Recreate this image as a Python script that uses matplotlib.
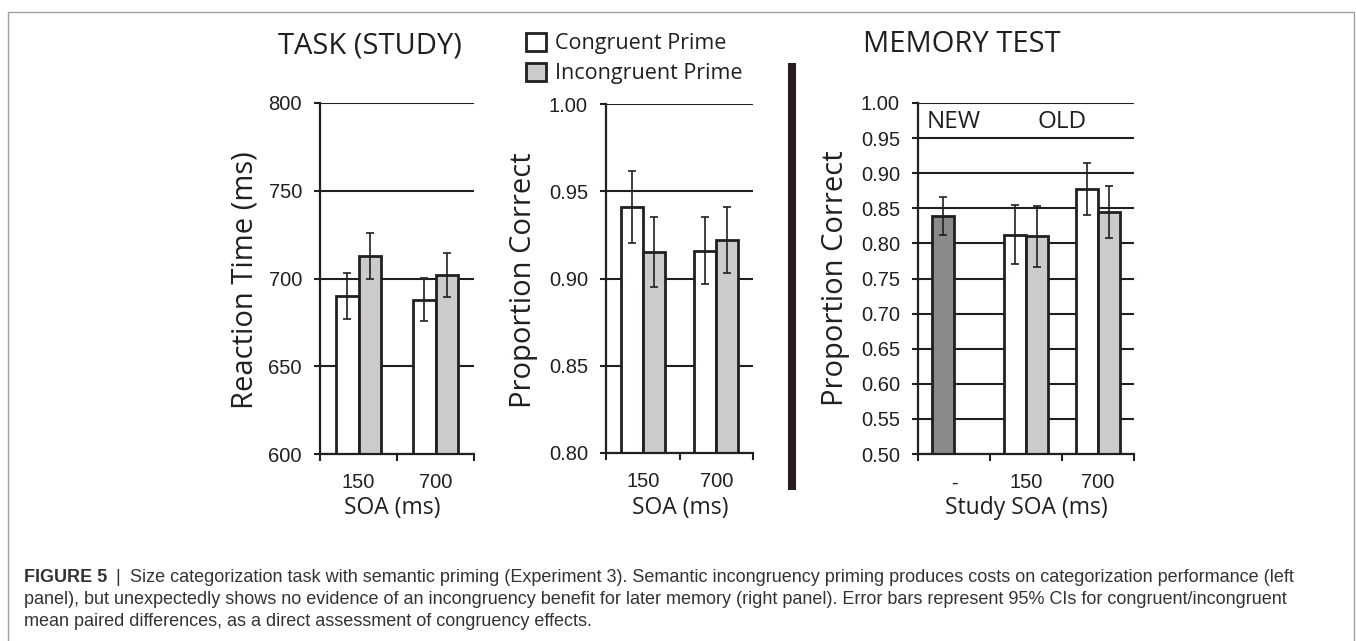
import matplotlib
matplotlib.use("Agg")
import matplotlib.pyplot as plt
from matplotlib.lines import Line2D
from matplotlib.patches import Rectangle, Patch

W, H = 1356, 641

# ---------------- data ----------------
soa_labels = ["150", "700"]
rt_congruent = [690, 688]
rt_incongruent = [713, 702]
rt_congruent_err = [13, 12.5]
rt_incongruent_err = [13, 12.5]

acc_congruent = [0.941, 0.916]
acc_incongruent = [0.915, 0.922]
acc_congruent_err = [0.0205, 0.019]
acc_incongruent_err = [0.020, 0.019]

mem_labels = ["-", "150", "700"]
mem_new = [0.839]
mem_new_err = [0.027]
mem_congruent = [0.812, 0.877]
mem_incongruent = [0.810, 0.845]
mem_congruent_err = [0.042, 0.037]
mem_incongruent_err = [0.043, 0.037]

rt_ticks = [600, 650, 700, 750, 800]
acc_ticks = [0.80, 0.85, 0.90, 0.95, 1.00]
mem_ticks = [0.50, 0.55, 0.60, 0.65, 0.70, 0.75, 0.80, 0.85, 0.90, 0.95, 1.00]

series_names = ["Congruent Prime", "Incongruent Prime"]

# ---------------- style ----------------
INK = "#231f20"
C_CONG = "white"
C_INC = "#cbcbcb"
C_NEW = "#8a8a8a"
SANS = ["Open Sans", "DejaVu Sans"]
NUM = ["Liberation Sans", "DejaVu Sans"]

fig = plt.figure(figsize=(W / 100, H / 100), dpi=100)


def axes_px(x0, y0, x1, y1):
    return fig.add_axes([x0 / W, 1 - y1 / H, (x1 - x0) / W, (y1 - y0) / H])


def style(ax, labels, ylim, yticks, fmt):
    n = len(labels)
    ax.set_xlim(0, n)
    ax.set_ylim(*ylim)
    for s in ("top", "right"):
        ax.spines[s].set_visible(False)
    for s in ("left", "bottom"):
        ax.spines[s].set_linewidth(1.6)
        ax.spines[s].set_color(INK)
    ax.set_yticks(yticks)
    ax.set_yticklabels([fmt.format(t) for t in yticks], fontfamily=NUM, fontsize=14.5)
    ax.yaxis.grid(True, color=INK, linewidth=1.5)
    ax.set_axisbelow(True)
    ax.tick_params(axis="y", length=4, width=1.5, color=INK, pad=9, labelcolor=INK)
    ax.set_xticks(range(n + 1))
    ax.set_xticklabels([])
    ax.tick_params(axis="x", which="major", length=5, width=1.5, color=INK)
    ax.set_xticks([i + 0.5 for i in range(n)], minor=True)
    ax.set_xticklabels(labels, minor=True, fontfamily=NUM, fontsize=14.5, color=INK)
    ax.tick_params(axis="x", which="minor", length=0, pad=14)


def bars(ax, x, vals, err, w, color):
    ax.bar(x, vals, w, yerr=err, color=color, edgecolor=INK, linewidth=2,
           error_kw=dict(ecolor=INK, elinewidth=1.2, capsize=3, capthick=1.2))


# ---- left panel: reaction time ----
ax1 = axes_px(320, 103, 474, 454)
style(ax1, soa_labels, (600, 800), rt_ticks, "{:d}")
w = 0.29
xc = [i + 0.5 for i in range(len(soa_labels))]
bars(ax1, [x - w / 2 for x in xc], rt_congruent, rt_congruent_err, w, C_CONG)
bars(ax1, [x + w / 2 for x in xc], rt_incongruent, rt_incongruent_err, w, C_INC)

# ---- middle panel: accuracy ----
ax2 = axes_px(606, 104, 753, 453)
style(ax2, soa_labels, (0.80, 1.00), acc_ticks, "{:.2f}")
w = 0.30
bars(ax2, [x - w / 2 for x in xc], acc_congruent, acc_congruent_err, w, C_CONG)
bars(ax2, [x + w / 2 for x in xc], acc_incongruent, acc_incongruent_err, w, C_INC)

# ---- right panel: memory ----
ax3 = axes_px(918, 103, 1134, 454)
style(ax3, mem_labels, (0.50, 1.00), mem_ticks, "{:.2f}")
w = 0.30
bars(ax3, [0.5 - w / 2], mem_new, mem_new_err, w, C_NEW)
xo = [1.5, 2.5]
bars(ax3, [x - w / 2 for x in xo], mem_congruent, mem_congruent_err, w, C_CONG)
bars(ax3, [x + w / 2 for x in xo], mem_incongruent, mem_incongruent_err, w, C_INC)
ax3.text(0.12, 0.9725, "NEW", ha="left", va="center", fontfamily=SANS, fontsize=17.5, color=INK)
ax3.text(2.0, 0.9725, "OLD", ha="center", va="center", fontfamily=SANS, fontsize=17.5, color=INK)


def ftext(x, y, s, **kw):
    return fig.text(x / W, 1 - y / H, s, **kw)


# axis labels
ftext(245, 280, "Reaction Time (ms)", rotation=90, ha="center", va="center", fontfamily=SANS, fontsize=21, color=INK)
ftext(523, 280, "Proportion Correct", rotation=90, ha="center", va="center", fontfamily=SANS, fontsize=21, color=INK)
ftext(835, 278, "Proportion Correct", rotation=90, ha="center", va="center", fontfamily=SANS, fontsize=21, color=INK)
ftext(392, 508, "SOA (ms)", ha="center", va="center", fontfamily=SANS, fontsize=16.5, color=INK)
ftext(680, 508, "SOA (ms)", ha="center", va="center", fontfamily=SANS, fontsize=16.5, color=INK)
ftext(1026, 508, "Study SOA (ms)", ha="center", va="center", fontfamily=SANS, fontsize=16.5, color=INK)

# titles
ftext(370, 46, "TASK (STUDY)", ha="center", va="center", fontfamily=SANS, fontsize=21, color=INK)
ftext(962, 45, "MEMORY TEST", ha="center", va="center", fontfamily=SANS, fontsize=21, color=INK)

# legend
handles = [Patch(facecolor=C_CONG, edgecolor=INK, linewidth=2),
           Patch(facecolor=C_INC, edgecolor=INK, linewidth=2)]
fig.legend(handles, series_names, loc="upper left", bbox_to_anchor=(526 / W, 1 - 33 / H),
           frameon=False, prop={"family": SANS, "size": 15.5}, handlelength=0.92, handleheight=0.92,
           handletextpad=0.42, labelspacing=0.38, borderpad=0, borderaxespad=0, labelcolor=INK)

# thick separator
fig.add_artist(Line2D([791.5 / W, 791.5 / W], [1 - 63 / H, 1 - 490 / H], transform=fig.transFigure,
                      color=INK, linewidth=5.8, solid_capstyle="butt"))

# frame
fig.add_artist(Rectangle((8 / W, -0.05), (1354 - 8) / W, 1 - 12 / H + 0.05, transform=fig.transFigure,
                         fill=False, edgecolor="#a0a0a0", linewidth=1.0))

# caption
cap_kw = dict(fontfamily=NUM, fontsize=13, va="center", color="#333333")
t0 = ftext(24, 578, "FIGURE 5", fontweight="bold", **cap_kw)
fig.canvas.draw()
bb = t0.get_window_extent(fig.canvas.get_renderer())
ftext(bb.x1 + 8, 578, "|", **cap_kw)
ftext(bb.x1 + 23, 578, "Size categorization task with semantic priming (Experiment 3). Semantic incongruency "
      "priming produces costs on categorization performance (left", **cap_kw)
ftext(24, 600, "panel), but unexpectedly shows no evidence of an incongruency benefit for later memory "
      "(right panel). Error bars represent 95% CIs for congruent/incongruent", **cap_kw)
ftext(24, 622, "mean paired differences, as a direct assessment of congruency effects.", **cap_kw)

fig.savefig("out.png", dpi=100)
